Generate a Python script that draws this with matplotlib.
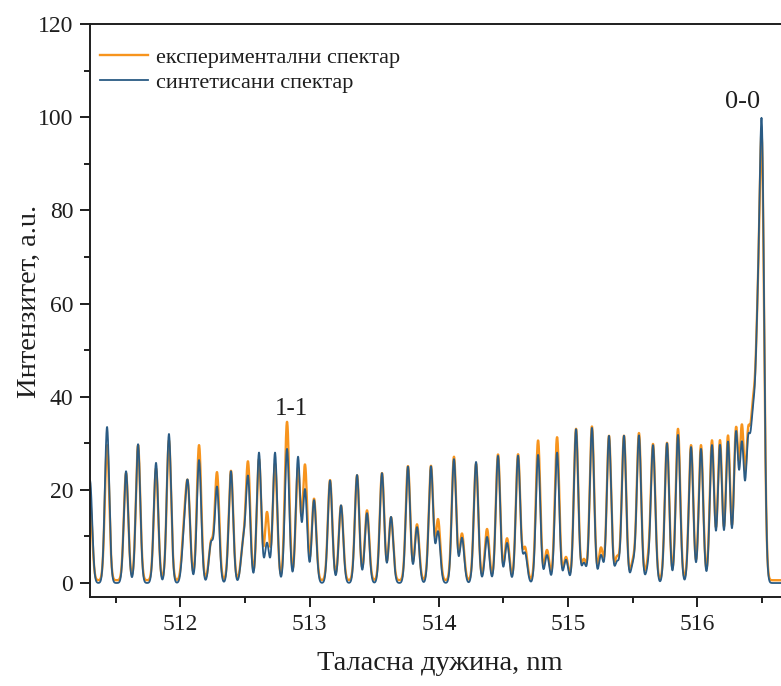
import numpy as np
import matplotlib
matplotlib.use("Agg")
import matplotlib.pyplot as plt

plt.rcParams["font.family"] = ["Liberation Serif", "DejaVu Serif"]

# Rotational line positions of the C2 Swan (0-0) and (1-1) bands, nm
line_centers = [
    511.300, 511.432, 511.579, 511.672, 511.811, 511.911, 512.028, 512.058,
    512.144, 512.237, 512.283, 512.391, 512.484, 512.523, 512.608, 512.670,
    512.732, 512.825, 512.910, 512.964, 513.034, 513.158, 513.243, 513.367,
    513.444, 513.560, 513.630, 513.761, 513.831, 513.939, 513.994, 514.117,
    514.179, 514.288, 514.373, 514.458, 514.528, 514.613, 514.667, 514.768,
    514.837, 514.915, 514.984, 515.062, 515.123, 515.185, 515.255, 515.317,
    515.379, 515.433, 515.503, 515.549, 515.619, 515.658, 515.766, 515.851,
    515.952, 516.029, 516.114, 516.176, 516.238, 516.300, 516.346, 516.393,
    516.430, 516.465, 516.500,
]

# Peak intensities of the synthetic spectrum, a.u.
synthetic_heights = [
    22.0, 33.5, 24.0, 29.8, 25.8, 32.0, 9.0, 20.0,
    26.4, 8.4, 20.5, 24.0, 7.7, 22.5, 28.0, 8.6,
    28.0, 28.8, 27.0, 20.0, 17.8, 22.0, 16.7, 23.2,
    15.0, 23.6, 14.2, 25.0, 12.0, 25.0, 11.0, 26.6,
    9.7, 26.0, 9.9, 27.3, 8.6, 27.3, 6.4, 27.5,
    6.0, 28.0, 5.0, 33.0, 4.3, 33.3, 6.0, 31.6,
    4.5, 31.6, 3.9, 31.6, 2.8, 29.4, 30.0, 31.8,
    29.2, 28.8, 29.6, 29.6, 30.3, 31.8, 29.0, 28.0,
    30.0, 42.0, 94.0,
]

# Peak intensities of the measured spectrum, a.u.
experimental_heights = [
    17.0, 29.0, 23.0, 29.0, 24.0, 30.0, 10.0, 19.0,
    29.0, 8.0, 23.0, 23.5, 7.0, 25.0, 26.0, 14.6,
    25.0, 34.0, 24.0, 24.7, 17.5, 21.5, 16.0, 22.5,
    15.0, 23.0, 13.5, 24.5, 12.0, 24.5, 13.0, 26.5,
    10.0, 25.0, 11.0, 27.0, 9.0, 27.0, 7.0, 30.0,
    6.5, 30.7, 5.0, 32.5, 4.5, 33.0, 7.0, 31.0,
    5.0, 31.0, 4.0, 31.5, 3.5, 29.0, 29.5, 32.5,
    29.0, 29.0, 30.0, 30.0, 31.0, 32.0, 32.0, 29.0,
    31.0, 42.0, 90.0,
]

line_sigma = 0.017   # nm, instrumental line width
head_sigma = 0.018   # nm, width of the band head

x_ticks = [512, 513, 514, 515, 516]
y_ticks = [0, 20, 40, 60, 80, 100, 120]

wl = np.linspace(511.3, 516.65, 4000)


def profile(heights):
    out = np.zeros_like(wl)
    n = len(line_centers)
    for i, (c, h) in enumerate(zip(line_centers, heights)):
        s = head_sigma if i == n - 1 else line_sigma
        out += h * np.exp(-0.5 * ((wl - c) / s) ** 2)
    return out


exp_curve = profile(experimental_heights) + 0.6
syn_curve = profile(synthetic_heights)

fig = plt.figure(figsize=(7.81, 6.86), dpi=100)
ax_w_px = (517.0 - 511.3) * 129.2
ax = fig.add_axes([90 / 781, 89 / 686, ax_w_px / 781, 573 / 686])

ink = "#1e1e1e"
orange = "#F7941D"
blue = "#2A5B84"
ax.plot(wl, exp_curve, color=orange, lw=1.7, label="експериментални спектар")
ax.plot(wl, syn_curve, color=blue, lw=1.3, label="синтетисани спектар")

ax.set_xlim(511.3, 517.0)
ax.set_ylim(-3, 120)
ax.set_xticks(x_ticks)
ax.set_xticks(np.arange(511.5, 517.0, 1.0), minor=True)
ax.set_yticks(y_ticks)
ax.set_yticks(np.arange(10, 120, 20), minor=True)

for sp in ax.spines.values():
    sp.set_linewidth(1.4)
    sp.set_color(ink)
ax.tick_params(which="major", direction="out", length=7, width=1.4,
               labelsize=17, colors=ink, pad=5)
ax.tick_params(which="minor", direction="out", length=4, width=1.4,
               colors=ink)

ax.set_xlabel("Таласна дужина, nm", fontsize=20.5, color=ink, va="center")
ax.xaxis.set_label_coords((440 - 90) / ax_w_px, (597 - 663) / 573)
ax.set_ylabel("Интензитет, a.u.", fontsize=20.5, color=ink)
ax.yaxis.set_label_coords((42 - 90) / ax_w_px, (597 - 301) / 573)

ax.text(516.35, 102.0, "0-0", fontsize=19, ha="center", va="baseline", color=ink)
ax.text(512.856, 36.0, "1-1", fontsize=18, ha="center", va="baseline", color=ink)

leg = ax.legend(loc="upper left", bbox_to_anchor=(10 / ax_w_px, (597 - 47) / 573),
                frameon=False, fontsize=16, handlelength=2.15, handletextpad=0.35,
                labelspacing=0.2, borderaxespad=0.0, borderpad=0.0)
for t in leg.get_texts():
    t.set_color(ink)

fig.savefig("out.png", dpi=100)
